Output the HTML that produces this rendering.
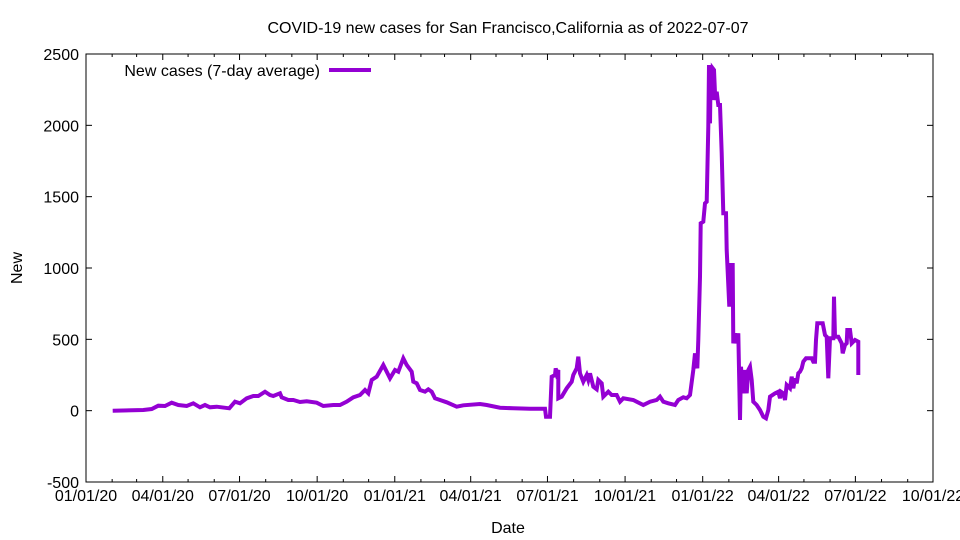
<!DOCTYPE html>
<html><head><meta charset="utf-8"><style>body{margin:0;background:#fff}svg{display:block}text{font-family:"Liberation Sans",Arial,sans-serif;font-size:16px;fill:#000}</style></head>
<body>
<svg id="s" width="960" height="540" viewBox="0 0 960 540" xmlns="http://www.w3.org/2000/svg">
<rect x="86" y="54" width="847" height="428" fill="none" stroke="#000" stroke-width="1"/>
<g id="ticks" stroke="#000" stroke-width="1"></g>
<g id="labels"></g>
<text x="508" y="33" text-anchor="middle">COVID-19 new cases for San Francisco,California as of 2022-07-07</text>
<text x="508" y="533" text-anchor="middle">Date</text>
<text transform="translate(22,268) rotate(-90)" text-anchor="middle">New</text>
<text x="320" y="76" text-anchor="end">New cases (7-day average)</text>
<line x1="329" y1="70" x2="371" y2="70" stroke="#9400d3" stroke-width="4"/>
<polyline fill="none" stroke="#9400d3" stroke-width="4" stroke-linejoin="miter" points="112.7,410.7 143.3,410 151.7,409 158.3,405.7 165,406 171.7,402.7 178.3,405 186.7,406 193.3,403.3 200,407.3 205,405 210,407.3 216.7,406.7 229.3,408.3 235,401.7 240,403.3 246.7,398.3 253.3,396 258.3,396 265,391.7 270,395 273.3,396 280,393.3 281.7,397.3 288.3,400 293.3,400 300,402 306.7,401.3 316.7,402.7 323.3,406 333.3,405 340,405 346.7,401.7 353.3,397.3 360,395 365,390 368.3,393.3 371.7,380 376.7,376.7 383.3,365 386.7,371.7 390,378.3 395,370 398.3,371.7 403.3,358.3 406.7,365 411.7,371.7 413.3,381.7 416.7,383.3 420,390 425,391.7 428.3,389.3 431.7,391.7 435,398.3 440,400 446.7,402.3 456.7,406.7 463.3,405.3 480,404 486.7,405 500,407.7 513.3,408.3 530,408.7 545,408.7 546,416.7 550,416.7 551.7,376.7 555,375 555.7,368.3 556.7,373.3 558.3,370 558.3,398.3 561.7,396.7 566.7,388.3 571.7,381.7 573.3,375 576.7,368.3 578.3,356.7 580,373.3 583.3,381.7 586.7,375 588.3,380 590,373.3 593.3,386.7 596.7,389.3 598.3,380 601.7,383.3 603.3,396.7 608.3,391.7 611.7,395 616.7,395 620,401.7 623.3,398.3 633.3,400 643.3,405 650,401.7 656.7,400 660,396.7 663.3,401.7 668.3,403.3 675,405 678.3,400 683.3,397.3 686.7,398.3 690,395 693.3,370 695,353.3 697.3,368.3 698.3,340 700,276.7 700.7,223.3 703.3,221.7 705,203.3 706.7,201.7 708.3,126.7 709,65 710,123.3 710.7,70 712,100 712.7,68.3 714,70 715.3,100 716.7,91.7 718.3,105 720,105 721.7,153.3 723.3,213.3 726,213.3 726.7,250 729.3,306.7 730.7,265 732.7,265 733.3,343.3 735,333.3 736.7,343.3 738.3,333.3 740,420 741,366.7 742.7,393.3 745,370 746.7,393.3 748.3,370 750,366.7 751.7,380 753.3,401.7 756.7,405 760,410 763.3,416.7 766,418.3 768.3,410 770,396.7 775,393.3 778.3,391.7 780,398.3 781,391.7 783.3,393.3 785,400 786.7,385 790,388.3 791.7,376.7 793.3,388.3 795,378.3 796.7,383.3 798.3,373.3 800,371.7 801.7,368.3 803.3,361.7 806,358.3 811.7,358.3 813.3,361.7 815,361.7 816,340 817.3,323.3 822.7,323.3 825,335 826.7,336.7 828.3,378.3 830,338.3 833.3,338.3 834,296.7 835,336.7 838.3,336.7 841.7,343.3 842.7,353.3 845,345 846.7,343.3 847.3,330 850,330 851.7,343.3 855,340 858.3,341.7 858.3,375"/>
</svg>
<script>
var ns="http://www.w3.org/2000/svg",t=document.getElementById("ticks"),l=document.getElementById("labels");
function ln(a,b,c,d){var e=document.createElementNS(ns,"line");e.setAttribute("x1",a);e.setAttribute("y1",b);e.setAttribute("x2",c);e.setAttribute("y2",d);t.appendChild(e);}
function tx(x,y,s,a){var e=document.createElementNS(ns,"text");e.setAttribute("x",x);e.setAttribute("y",y);e.setAttribute("text-anchor",a);e.textContent=s;l.appendChild(e);}
var sc=847/1004;
var months=[0,31,60,91,121,152,182,213,244,274,305,335,366,397,425,456,486,517,547,578,609,639,670,700,731,762,790,821,851,882,912,943,974,1004];
var names=["01/01/20","04/01/20","07/01/20","10/01/20","01/01/21","04/01/21","07/01/21","10/01/21","01/01/22","04/01/22","07/01/22","10/01/22"];
months.forEach(function(d,i){var x=86+d*sc;var major=i%3==0;var len=major?6:3;
ln(x,482,x,482-len);ln(x,54,x,54+len);
if(major)tx(x,501,names[i/3],"middle");});
for(var i=0;i<=6;i++){var y=54+i*428/6;var v=2500-500*i;ln(86,y,92,y);ln(933,y,927,y);tx(79,y+6,String(v),"end");}
</script>
</body></html>
